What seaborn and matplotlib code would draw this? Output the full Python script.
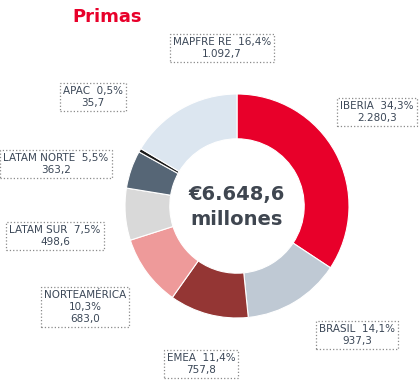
import numpy as np
import matplotlib
matplotlib.use("Agg")
import matplotlib.pyplot as plt
import seaborn as sns

# Data
regions = ["IBERIA", "BRASIL", "EMEA", "NORTEAMÉRICA", "LATAM SUR",
           "LATAM NORTE", "APAC", "MAPFRE RE"]
primas = [2280.3, 937.3, 757.8, 683.0, 498.6, 363.2, 35.7, 1092.7]
shares = ["34,3%", "14,1%", "11,4%", "10,3%", "7,5%", "5,5%", "0,5%", "16,4%"]
amounts = ["2.280,3", "937,3", "757,8", "683,0", "498,6", "363,2", "35,7", "1.092,7"]
total_label = "€6.648,6\nmillones"

colors = ["#e8002a", "#bfc9d4", "#943634", "#ee9a9a", "#d9d9d9",
          "#566676", "#1a1a1a", "#dce6f0"]

# label box centres in pixels (x from left, y from top)
label_pos = [(377, 112), (357, 335), (201, 364), (85, 307), (55, 236),
             (56, 164), (93, 97), (222, 48)]

sns.set_theme(style="white")
plt.rcParams["font.family"] = ["DejaVu Sans"]

W, H = 420, 385
fig = plt.figure(figsize=(W / 100, H / 100), dpi=100)
ax = fig.add_axes([0, 0, 1, 1])
ax.set_xlim(0, W)
ax.set_ylim(0, H)
ax.set_aspect("equal")
ax.axis("off")

radius = 112
ax.pie(primas, colors=colors, startangle=90, counterclock=False,
       center=(237, H - 206), radius=radius,
       wedgeprops=dict(width=radius * 0.4, edgecolor="white", linewidth=0.8))
ax.set_xlim(0, W)
ax.set_ylim(0, H)

text_color = "#3b4757"
ax.text(237, H - 207, total_label, ha="center", va="center", fontsize=14,
        fontweight="bold", color="#3f4650", linespacing=1.35)

ax.text(107, H - 17, "Primas", ha="center", va="center", fontsize=13,
        fontweight="bold", color="#e8002a")

for name, pct, amt, (x, y) in zip(regions, shares, amounts, label_pos):
    if name == "NORTEAMÉRICA":
        txt = f"{name}\n{pct}\n{amt}"
    else:
        txt = f"{name}  {pct}\n{amt}"
    ax.text(x, H - y, txt, ha="center", va="center", fontsize=7.5,
            color=text_color, linespacing=1.2,
            bbox=dict(boxstyle="square,pad=0.3", facecolor="white",
                      edgecolor="#8a8a8a", linestyle=":", linewidth=0.9))

fig.savefig("out.png", dpi=100)
